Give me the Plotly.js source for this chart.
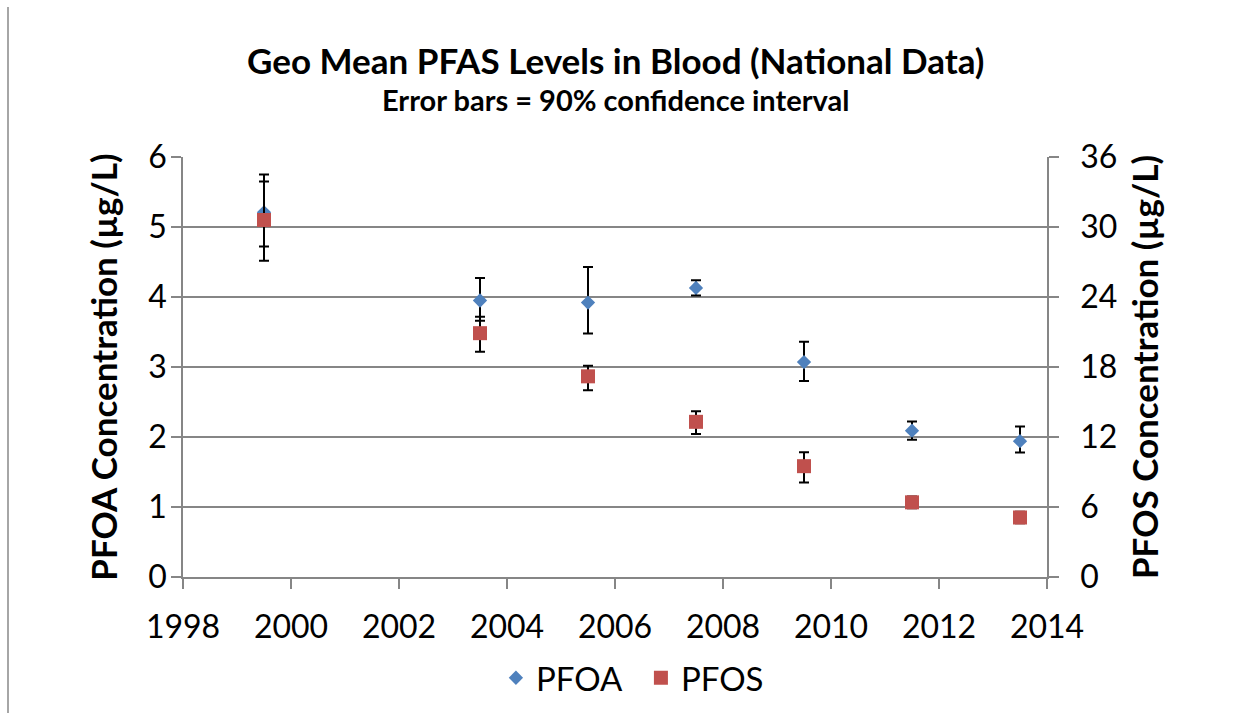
<!DOCTYPE html>
<html>
<head>
<meta charset="utf-8">
<script src="https://cdn.plot.ly/plotly-3.0.1.min.js"></script>
<style>
  html, body { margin: 0; padding: 0; background: #ffffff; }
  #chart { width: 1248px; height: 713px; }
  #edge { position: absolute; left: 7px; top: 7px; width: 2px; height: 706px; background: #a6a6a6; }
</style>
</head>
<body>
<div id="chart"></div>
<div id="edge"></div>
<script>
// Data
const years = [1999.5, 2003.5, 2005.5, 2007.5, 2009.5, 2011.5, 2013.5];
const pfoaMean  = [5.21, 3.95, 3.92, 4.13, 3.07, 2.09, 1.94];
const pfoaUpper = [5.75, 4.27, 4.43, 4.24, 3.36, 2.22, 2.15];
const pfoaLower = [4.72, 3.66, 3.48, 4.02, 2.80, 1.96, 1.78];
const pfosMean  = [30.6, 20.9, 17.2, 13.3, 9.5, 6.4, 5.1];
const pfosUpper = [33.9, 22.3, 18.1, 14.2, 10.7, 6.9, 5.6];
const pfosLower = [27.1, 19.3, 16.0, 12.25, 8.1, 5.9, 4.6];
const xTicks = [1998, 2000, 2002, 2004, 2006, 2008, 2010, 2012, 2014];
const leftTicks = [0, 1, 2, 3, 4, 5, 6];
const rightTicks = [0, 6, 12, 18, 24, 30, 36];

const FONT = 'Lato, "Open Sans", sans-serif';
const GRID = '#868686';

const plus = (u, m) => u.map((v, i) => +(v - m[i]).toFixed(3));
const minus = (l, m) => l.map((v, i) => +(m[i] - v).toFixed(3));

const traces = [
  {
    name: 'PFOA', type: 'scatter', mode: 'markers',
    x: years, y: pfoaMean, yaxis: 'y',
    marker: { symbol: 'diamond', size: 11, color: '#4F81BD' },
    error_y: { type: 'data', symmetric: false,
      array: plus(pfoaUpper, pfoaMean), arrayminus: minus(pfoaLower, pfoaMean),
      color: '#000000', thickness: 2, width: 5 }
  },
  {
    name: 'PFOS', type: 'scatter', mode: 'markers',
    x: years, y: pfosMean, yaxis: 'y2',
    marker: { symbol: 'square', size: 14, color: '#C0504D' },
    error_y: { type: 'data', symmetric: false,
      array: plus(pfosUpper, pfosMean), arrayminus: minus(pfosLower, pfosMean),
      color: '#000000', thickness: 2, width: 5 }
  }
];

const layout = {
  width: 1248, height: 713,
  margin: { l: 183, r: 201, t: 157, b: 136, autoexpand: false },
  paper_bgcolor: '#ffffff', plot_bgcolor: '#ffffff',
  font: { family: FONT, color: '#000000', size: 32 },
  showlegend: true,
  legend: { orientation: 'h', x: 0.53, xanchor: 'center', y: -0.24, yanchor: 'middle',
            font: { family: FONT, size: 33, color: '#000000' }, itemwidth: 30,
            entrywidth: 100, tracegroupgap: 0 },
  xaxis: {
    range: [1998, 2014], tickmode: 'array', tickvals: xTicks, ticktext: xTicks.map(String),
    showgrid: false, zeroline: false, showline: true, linecolor: GRID, linewidth: 1.5,
    ticks: 'outside', ticklen: 10, tickcolor: GRID, tickwidth: 1.5, automargin: false,
    tickfont: { family: FONT, size: 32 }, ticklabelstandoff: 11
  },
  yaxis: {
    range: [0, 6], tickmode: 'array', tickvals: leftTicks, ticktext: leftTicks.map(String),
    showgrid: true, gridcolor: GRID, gridwidth: 1.5, zeroline: false,
    showline: true, linecolor: GRID, linewidth: 1.5, automargin: false,
    ticks: 'outside', ticklen: 10, tickcolor: GRID, tickwidth: 1.5,
    tickfont: { family: FONT, size: 32 }, ticklabelstandoff: -2,
    title: { text: '<b>PFOA Concentration (µg/L)</b>', font: { family: FONT, size: 35 }, standoff: 20 }
  },
  yaxis2: {
    range: [0, 36], overlaying: 'y', side: 'right',
    tickmode: 'array', tickvals: rightTicks, ticktext: rightTicks.map(String),
    showgrid: false, zeroline: false, showline: true, linecolor: GRID, linewidth: 1.5,
    ticks: 'outside', ticklen: 10, tickcolor: GRID, tickwidth: 1.5, automargin: false,
    tickfont: { family: FONT, size: 32 }, ticklabelstandoff: 15,
    title: { text: '<b>PFOS Concentration (µg/L)</b>', font: { family: FONT, size: 35 }, standoff: 17 }
  },
  annotations: [
    { text: '<b>Geo Mean PFAS Levels in Blood (National Data)</b>', xref: 'paper', yref: 'paper',
      x: 0.5, y: 1.232, xanchor: 'center', yanchor: 'middle', showarrow: false,
      font: { family: FONT, size: 35, color: '#000000' } },
    { text: '<b>Error bars = 90% confidence interval</b>', xref: 'paper', yref: 'paper',
      x: 0.5, y: 1.138, xanchor: 'center', yanchor: 'middle', showarrow: false,
      font: { family: FONT, size: 29, color: '#000000' } }
  ]
};

Plotly.newPlot('chart', traces, layout, { displayModeBar: false, responsive: false });
</script>
</body>
</html>
